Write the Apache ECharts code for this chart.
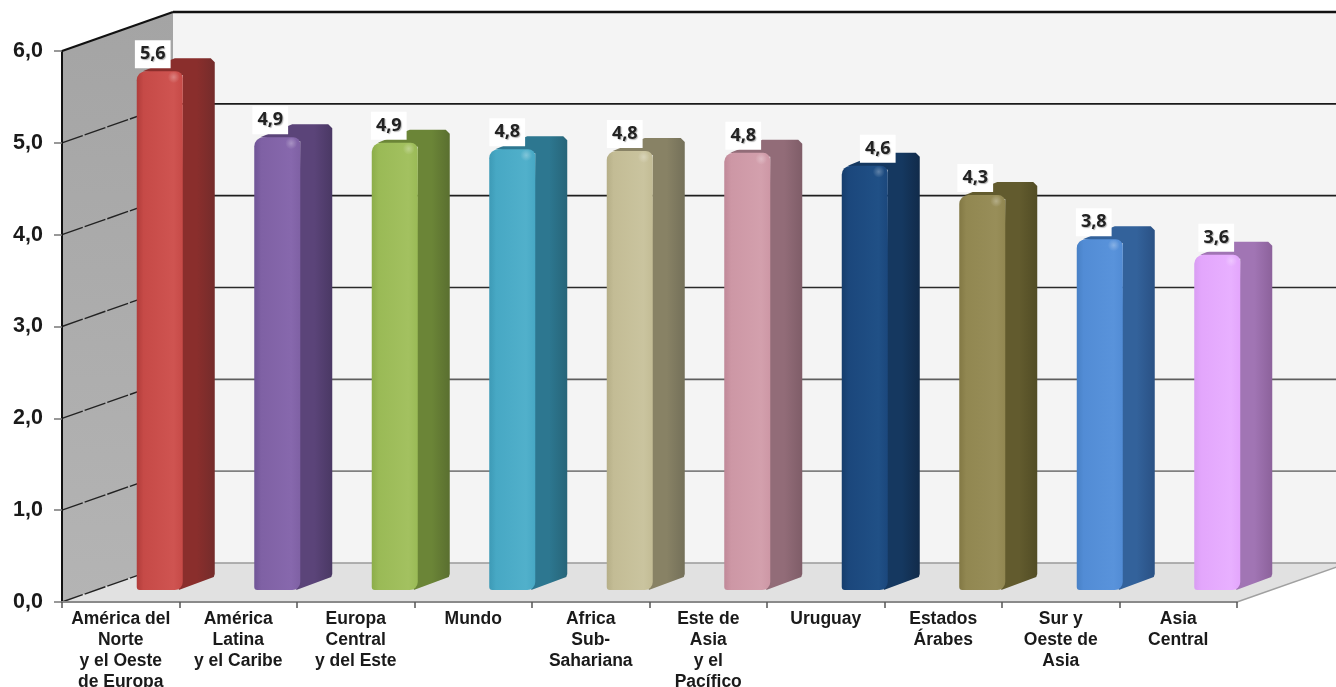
<!DOCTYPE html>
<html><head><meta charset="utf-8">
<style>html,body{margin:0;padding:0;background:#fff}#c{width:1336px;height:687px}</style>
<script src="https://cdn.jsdelivr.net/npm/echarts@6/dist/echarts.min.js"></script>
</head><body><div id="c"></div>
<script>
const categories = ["América del\nNorte\ny el Oeste\nde Europa","América\nLatina\ny el Caribe","Europa\nCentral\ny del Este","Mundo","Africa\nSub-\nSahariana","Este de\nAsia\ny el\nPacífico","Uruguay","Estados\nÁrabes","Sur y\nOeste de\nAsia","Asia\nCentral"];
const values = [5.65,4.93,4.87,4.80,4.78,4.76,4.62,4.30,3.82,3.65];
const valueLabels = ["5,6","4,9","4,9","4,8","4,8","4,8","4,6","4,3","3,8","3,6"];
const yTicks = [0,1,2,3,4,5,6];

const frontColors = [["#b03c3a","#c64a47","#cf5451"],["#6f5496","#7f61a4","#8768ad"],["#8cad49","#9aba56","#a3c160"],["#3d9ab6","#47a8c4","#51b0cb"],["#b5ae87","#c3bc95","#cac49f"],["#c08898","#cd97a5","#d3a0ad"],["#163d6c","#1b477c","#205086"],["#827844","#918751","#988e59"],["#4880c5","#528cd5","#5993db"],["#d89df2","#e3a6fc","#e8b0ff"]];
const sideColors = [["#8a2e2c","#742c2b"],["#5b4479","#4a3864"],["#6b8537","#5a6f30"],["#2d7790","#276579"],["#888265","#747059"],["#926c78","#7f5d68"],["#153860","#112b4a"],["#625b2e","#524d25"],["#33629b","#2a5184"],["#a175b4","#8c629b"]];
const labelNudge = [-7,-7,-6,-5,-5,-4,13,-7,-6,-1];

const DX = 111, DY = 39;
const BAR_L = 16, BAR_W = 46, SIDE_DX = 32, SIDE_DY = 13, BASE_DY = 12;
const gridColors = ["#9a9a9a","#808080","#5e5e5e","#2a2a2a","#1e1e1e","#1a1a1a","#111"];

function renderWalls(params, api) {
  const cs = params.coordSys;
  const L = cs.x, R = cs.x + cs.width, T = cs.y, B = cs.y + cs.height;
  const kids = [];
  kids.push({type:'polygon',shape:{points:[[L+DX,T-DY],[R+DX,T-DY],[R+DX,B-DY],[L+DX,B-DY]]},style:{fill:'#f4f4f4'}});
  kids.push({type:'polygon',shape:{points:[[L,B],[R,B],[R+DX,B-DY],[L+DX,B-DY]]},style:{fill:'#e1e1e1'}});
  kids.push({type:'polygon',shape:{points:[[L,T],[L+DX,T-DY],[L+DX,B-DY],[L,B]]},style:{fill:{type:'linear',x:0,y:0,x2:0,y2:1,colorStops:[{offset:0,color:'#a4a4a4'},{offset:1,color:'#b4b4b4'}]}}});
  yTicks.forEach((t,i) => {
    const y = api.coord([0,t])[1];
    const top = t === 6;
    kids.push({type:'line',shape:{x1:L+DX,y1:y-DY,x2:R+DX,y2:y-DY},style:{stroke:gridColors[i],lineWidth:top?2.5:1.6}});
    kids.push({type:'line',shape:{x1:L,y1:y,x2:L+DX,y2:y-DY},style:{stroke:top?'#111':'#222',lineWidth:top?2.2:1.4,lineDash:top?null:[22,2]}});
  });
  kids.push({type:'line',shape:{x1:R,y1:B,x2:R+DX,y2:B-DY},style:{stroke:'#a0a0a0',lineWidth:1.5}});
  return {type:'group',children:kids};
}
function renderBar(params, api) {
  const i = api.value(0), c = api.coord([i,api.value(1)]), z = api.coord([i,0]);
  const x = c[0]+BAR_L, top = c[1]-BASE_DY, bot = z[1]-BASE_DY;
  const f = frontColors[i], s = sideColors[i];
  const kids = [
    {type:'polygon',shape:{points:[[x+BAR_W-4,bot],[x+BAR_W+SIDE_DX-1,bot-SIDE_DY],[x+BAR_W+SIDE_DX,bot-SIDE_DY-3],[x+BAR_W+SIDE_DX,top-SIDE_DY+4],[x+BAR_W+SIDE_DX-4,top-SIDE_DY],[x+SIDE_DX+6,top-SIDE_DY],[x+6,top],[x+BAR_W,top+4]]},
     style:{fill:{type:'linear',x:0,y:0,x2:1,y2:0,colorStops:[{offset:0,color:s[0]},{offset:.75,color:s[0]},{offset:1,color:s[1]}]}}},
    {type:'rect',shape:{x:x,y:top,width:BAR_W,height:bot-top,r:[9,7,8,3]},
     style:{fill:{type:'linear',x:0,y:0,x2:1,y2:0,colorStops:[{offset:0,color:f[0]},{offset:.15,color:f[1]},{offset:.8,color:f[2]},{offset:1,color:f[1]}]}}},
    {type:'circle',shape:{cx:x+37,cy:top+6,r:6},
     style:{fill:{type:'radial',x:.5,y:.5,r:.5,colorStops:[{offset:0,color:'rgba(255,255,255,.28)'},{offset:1,color:'rgba(255,255,255,0)'}]}}}
  ];
  return {type:'group',children:kids};
}
function renderLabel(params, api) {
  const i = api.value(0), c = api.coord([i,api.value(1)]);
  const x = c[0]+BAR_L+BAR_W/2+labelNudge[i], y = c[1]-BASE_DY-17;
  return {type:'text',style:{x:x,y:y,text:valueLabels[i],align:'center',verticalAlign:'middle',fill:'#222',font:'bold 18px "Noto Sans"',backgroundColor:'#fff',padding:[6,5,4,5],textShadowColor:'rgba(0,0,0,.3)',textShadowBlur:1,textShadowOffsetX:1,textShadowOffsetY:1}};
}
const barData = values.map((v,i)=>[i,v]);
const chart = echarts.init(document.getElementById('c'),null,{renderer:'canvas'});
chart.setOption({
  animation:false,
  backgroundColor:'#fff',
  grid:{left:62,right:99,top:51,bottom:85,outerBoundsMode:'none'},
  xAxis:{type:'category',data:categories,boundaryGap:true,z:5,
    axisLine:{lineStyle:{color:'#8a8a8a',width:2}},
    axisTick:{show:true,length:6,lineStyle:{color:'#555',width:1.5}},
    axisLabel:{interval:0,color:'#1a1a1a',fontFamily:'Liberation Sans',fontWeight:'bold',fontSize:17.5,lineHeight:21,margin:7,align:'center'}},
  yAxis:{type:'value',min:0,max:6,interval:1,z:5,
    axisLine:{show:true,lineStyle:{color:'#111',width:2}},
    axisTick:{show:true,length:8,lineStyle:{color:'#777',width:1.5}},
    splitLine:{show:false},
    axisLabel:{color:'#1a1a1a',fontFamily:'Liberation Sans',fontWeight:'bold',fontSize:21.5,margin:19,padding:[3,0,0,0],formatter:v=>v.toFixed(1).replace('.',',')}},
  series:[
    {type:'custom',z:1,silent:true,coordinateSystem:'cartesian2d',clip:false,renderItem:renderWalls,data:[[0,0]],encode:{x:0,y:1}},
    {type:'custom',z:2,silent:true,coordinateSystem:'cartesian2d',clip:false,renderItem:renderBar,data:barData,encode:{x:0,y:1}},
    {type:'custom',z:3,silent:true,coordinateSystem:'cartesian2d',clip:false,renderItem:renderLabel,data:barData,encode:{x:0,y:1}}
  ]
});
</script></body></html>
